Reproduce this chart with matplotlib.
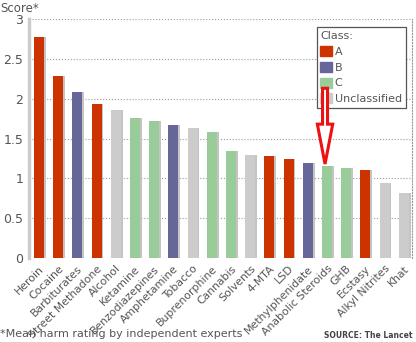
import matplotlib.pyplot as plt
from matplotlib.patches import Patch, FancyArrow
from matplotlib.transforms import ScaledTranslation

drugs = ["Heroin", "Cocaine", "Barbiturates", "Street Methadone", "Alcohol",
         "Ketamine", "Benzodiazepines", "Amphetamine", "Tobacco", "Buprenorphine",
         "Cannabis", "Solvents", "4-MTA", "LSD", "Methylphenidate",
         "Anabolic Steroids", "GHB", "Ecstasy", "Alkyl Nitrites", "Khat"]
scores = [2.78, 2.29, 2.08, 1.93, 1.86, 1.76, 1.72, 1.67, 1.63, 1.58,
          1.34, 1.29, 1.28, 1.24, 1.19, 1.15, 1.13, 1.10, 0.94, 0.81]
classes = ["A", "A", "B", "A", "U", "C", "C", "B", "U", "C",
           "C", "U", "A", "A", "B", "C", "C", "A", "U", "U"]
class_names = ["A", "B", "C", "Unclassified"]

colours = {"A": "#cc3300", "B": "#666699", "C": "#99cc99", "U": "#cccccc"}
txt = "#555555"

fig = plt.figure(figsize=(4.16, 3.42), dpi=100)
ax = fig.add_axes([29/416, 1 - 258/342, 383/416, 239/342])

x = list(range(len(drugs)))
# little grey shadow behind each bar
ax.bar([i + 0.1 for i in x], scores, width=0.52, color="#c4c4c4", zorder=2)
ax.bar(x, scores, width=0.52, color=[colours[c] for c in classes], zorder=3)

ax.set_xlim(-0.52, 19.43)
ax.set_ylim(0, 3)
ax.set_yticks([0, 0.5, 1, 1.5, 2, 2.5, 3])
ax.set_yticklabels(["0", "0.5", "1", "1.5", "2", "2.5", "3"])
ax.yaxis.grid(True, linestyle=":", color="#999999", linewidth=0.8)
ax.set_axisbelow(True)

ax.set_xticks(x)
ax.set_xticklabels(drugs, rotation=45, ha="right", va="top",
                   rotation_mode="anchor", fontsize=7.8, color=txt)
shift = ScaledTranslation(4/100, 0, fig.dpi_scale_trans)
for lab in ax.get_xticklabels():
    lab.set_transform(lab.get_transform() + shift)
ax.tick_params(axis="x", length=0, pad=4)
ax.tick_params(axis="y", length=0, pad=4, labelsize=9, labelcolor=txt)

for s in ["top", "bottom"]:
    ax.spines[s].set_visible(False)
ax.spines["left"].set_color("#cccccc")
ax.spines["left"].set_linewidth(2.5)
ax.spines["right"].set_color("#999999")
ax.spines["right"].set_linestyle(":")
ax.spines["right"].set_linewidth(0.8)

handles = [Patch(color=colours[c[0]]) for c in class_names]
leg = ax.legend(handles, class_names, title="Class:", loc="upper right",
                bbox_to_anchor=(0.984, 0.966), borderaxespad=0,
                fontsize=8, title_fontsize=8,
                frameon=True, fancybox=False, framealpha=1,
                edgecolor="#555555", handlelength=1.0, handleheight=1.0,
                handletextpad=0.3, labelspacing=0.45, borderpad=0.35,
                alignment="left", labelcolor=txt)
leg.get_title().set_color(txt)
leg.get_frame().set_linewidth(0.9)

# red hollow arrow pointing at Anabolic Steroids
arr = FancyArrow(14.9, 2.13, 0, -0.95, width=0.26, head_width=0.8,
                 head_length=0.5, length_includes_head=True,
                 facecolor="white", edgecolor="#ee1111", linewidth=2.2,
                 zorder=10)
ax.add_patch(arr)

fig.text(0.0, 1 - 9/342, "Score*", fontsize=8.5, color=txt, va="center")
fig.text(0.0, 1 - 334/342, "*Mean harm rating by independent experts",
         fontsize=8, color=txt, va="center")
fig.text(413/416, 1 - 335/342, "SOURCE: The Lancet", fontsize=5.5,
         color="#444444", weight="bold", ha="right", va="center")

fig.savefig("out.png", dpi=100)
